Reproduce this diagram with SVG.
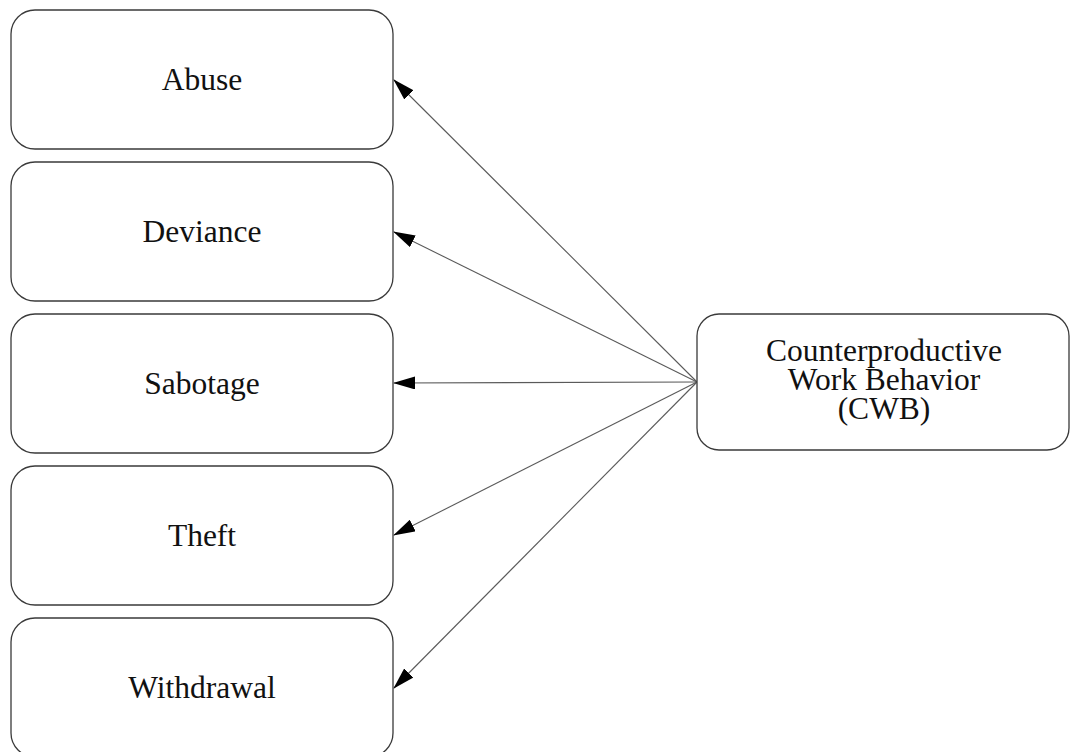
<svg xmlns="http://www.w3.org/2000/svg" width="1070" height="752" viewBox="0 0 1070 752">
  <style>
    .box { fill: #ffffff; stroke: #3a3a3a; stroke-width: 1.3; }
    .label { font-family: "Liberation Serif", "Times New Roman", serif; font-size: 31.5px; fill: #111111; text-anchor: middle; }
    .edge { stroke: #5a5a5a; stroke-width: 1.1; fill: none; marker-end: url(#head); }
  </style>
  <defs>
    <marker id="head" viewBox="0 0 22 13" markerWidth="22" markerHeight="13" refX="21" refY="6.5" orient="auto" markerUnits="userSpaceOnUse">
      <path d="M0,0 L22,6.5 L0,13 Z" fill="#000000"/>
    </marker>
  </defs>
  <rect width="1070" height="752" fill="#ffffff"/>

  <!-- connectors from the CWB node to each behaviour category -->
  <g id="connectors">
    <line class="edge" x1="697" y1="382" x2="394" y2="80"/>
    <line class="edge" x1="697" y1="382" x2="394" y2="232"/>
    <line class="edge" x1="697" y1="382" x2="394" y2="383"/>
    <line class="edge" x1="697" y1="382" x2="394" y2="535"/>
    <line class="edge" x1="697" y1="382" x2="394" y2="688"/>
  </g>

  <g id="abuse">
    <rect class="box" x="11" y="10" width="382" height="139" rx="24" ry="24"/>
    <text class="label" x="202" y="90">Abuse</text>
  </g>
  <g id="deviance">
    <rect class="box" x="11" y="162" width="382" height="139" rx="24" ry="24"/>
    <text class="label" x="202" y="242">Deviance</text>
  </g>
  <g id="sabotage">
    <rect class="box" x="11" y="314" width="382" height="139" rx="24" ry="24"/>
    <text class="label" x="202" y="394">Sabotage</text>
  </g>
  <g id="theft">
    <rect class="box" x="11" y="466" width="382" height="139" rx="24" ry="24"/>
    <text class="label" x="202" y="546">Theft</text>
  </g>
  <g id="withdrawal">
    <rect class="box" x="11" y="618" width="382" height="139" rx="24" ry="24"/>
    <text class="label" x="202" y="698">Withdrawal</text>
  </g>

  <g id="cwb">
    <rect class="box" x="697" y="314" width="372" height="136" rx="22" ry="22"/>
    <text class="label" x="884" y="361">Counterproductive</text>
    <text class="label" x="884" y="390">Work Behavior</text>
    <text class="label" x="884" y="419">(CWB)</text>
  </g>
</svg>
